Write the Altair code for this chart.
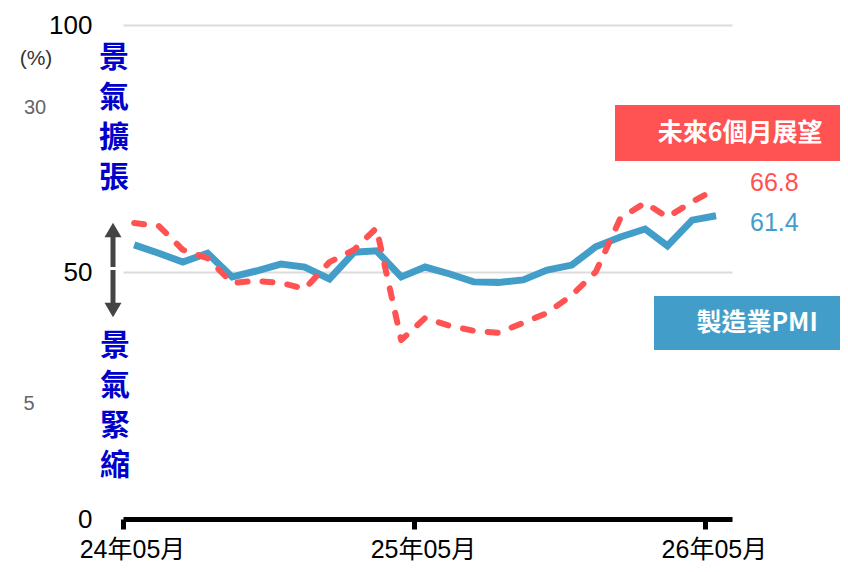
import altair as alt
import pandas as pd

# ---- data ----
months = ["2024-05", "2024-06", "2024-07", "2024-08", "2024-09", "2024-10", "2024-11",
          "2024-12", "2025-01", "2025-02", "2025-03", "2025-04", "2025-05", "2025-06",
          "2025-07", "2025-08", "2025-09", "2025-10", "2025-11", "2025-12", "2026-01",
          "2026-02", "2026-03", "2026-04", "2026-05"]
pmi = [55.5, 53.8, 52.0, 53.8, 49.0, 50.2, 51.6, 51.0, 48.6, 54.0, 54.3, 49.0, 51.0,
       49.6, 48.0, 47.9, 48.4, 50.4, 51.4, 55.1, 57.1, 58.7, 55.3, 60.5, 61.4]
outlook = [59.9, 59.3, 54.5, 52.8, 47.8, 48.2, 47.8, 46.6, 52.0, 54.5, 58.9, 36.2, 40.7,
           39.1, 38.1, 37.7, 39.7, 41.7, 45.3, 50.0, 60.9, 64.0, 61.1, 64.2, 66.8]
series_names = ["製造業PMI", "未來6個月展望"]
x_tick_dates = [(2024, 5, 1), (2025, 5, 1), (2026, 5, 1)]
x_domain = [(2024, 5, 1), (2026, 6, 4)]
y_ticks = [0, 50, 100]
last_labels = ["61.4", "66.8"]
up_words = ["景", "氣", "擴", "張"]
down_words = ["景", "氣", "緊", "縮"]

BLUE = "#429ec9"
RED = "#ff5252"
LATIN = "Liberation Sans, Arial, 'Noto Sans CJK TC', sans-serif"
CJK = "'Noto Sans CJK TC', sans-serif"

dates = [m + "-15" for m in months]
df = pd.DataFrame({
    "date": dates + dates,
    "value": pmi + outlook,
    "series": [series_names[0]] * len(pmi) + [series_names[1]] * len(outlook),
})

def dt(t):
    return alt.DateTime(year=t[0], month=t[1], date=t[2], utc=True)

x_enc = alt.X(
    "date:T",
    scale=alt.Scale(type="utc", domain=[dt(d) for d in x_domain]),
    axis=alt.Axis(
        values=[dt(d) for d in x_tick_dates],
        labelExpr="utcFormat(datum.value, '%y年%m月')",
        title=None, grid=False,
        domainColor="black", domainWidth=5,
        tickColor="black", tickWidth=5, tickSize=10,
        labelFontSize=25, labelColor="black", labelFont=LATIN,
        labelPadding=8, labelOffset=9, labelFlush=False,
    ),
)
y_enc = alt.Y(
    "value:Q",
    scale=alt.Scale(domain=[0, 100], nice=False),
    axis=alt.Axis(
        values=y_ticks, title=None, domain=False, ticks=False,
        grid=True, gridColor="#dcdcdc", gridWidth=2,
        labelFontSize=26, labelColor="black", labelFont=LATIN, labelPadding=31,
    ),
)

base = alt.Chart(df)
pmi_line = base.transform_filter(alt.datum.series == series_names[0]).mark_line(
    color=BLUE, strokeWidth=7, strokeJoin="miter", strokeCap="butt"
).encode(x=x_enc, y=y_enc)
out_line = base.transform_filter(alt.datum.series == series_names[1]).mark_line(
    color=RED, strokeWidth=6, strokeDash=[10, 15], strokeCap="round", strokeJoin="round"
).encode(x=x_enc, y=y_enc)

one = alt.Data(values=[{}])
L, T = 123, 25  # page position of plot origin


def txt(text, px, py, **kw):
    return alt.Chart(one).mark_text(**kw).encode(
        x=alt.value(px - L), y=alt.value(py - T), text=alt.value(text))


def rect(x1, x2, y1, y2, color):
    return alt.Chart(one).mark_rect(color=color).encode(
        x=alt.value(x1 - L), x2=alt.value(x2 - L),
        y=alt.value(y1 - T), y2=alt.value(y2 - T))


layers = [pmi_line, out_line]

# vertical words
for i, ch in enumerate(up_words):
    layers.append(txt(ch, 114, 58 + 40 * i, font=CJK, fontSize=30, fontWeight="bold",
                      color="#0000cd", align="center", baseline="middle"))
for i, ch in enumerate(down_words):
    layers.append(txt(ch, 115, 346 + 40 * i, font=CJK, fontSize=30, fontWeight="bold",
                      color="#0000cd", align="center", baseline="middle"))

# double arrow
ARROW = "#444444"
layers.append(alt.Chart(one).mark_rule(color=ARROW, strokeWidth=5).encode(
    x=alt.value(113 - L), y=alt.value(232 - T), y2=alt.value(267 - T)))
layers.append(alt.Chart(one).mark_rule(color=ARROW, strokeWidth=5).encode(
    x=alt.value(113 - L), y=alt.value(270 - T), y2=alt.value(307 - T)))
layers.append(alt.Chart(one).mark_point(shape="triangle-up", filled=True, size=289,
                                        color=ARROW, opacity=1).encode(
    x=alt.value(113 - L), y=alt.value(230 - T)))
layers.append(alt.Chart(one).mark_point(shape="triangle-down", filled=True, size=289,
                                        color=ARROW, opacity=1).encode(
    x=alt.value(113 - L), y=alt.value(310 - T)))

# legend boxes
layers.append(rect(615, 840, 105, 161, RED))
layers.append(txt(series_names[1], 740, 133, font=CJK, fontSize=25, fontWeight="bold",
                  color="white", align="center", baseline="middle"))
layers.append(rect(654, 840, 296, 350, BLUE))
layers.append(txt(series_names[0], 757, 323, font=CJK, fontSize=25, fontWeight="bold",
                  color="white", align="center", baseline="middle"))

# last values
layers.append(txt(last_labels[1], 750, 183, font=LATIN, fontSize=25, color=RED,
                  align="left", baseline="middle"))
layers.append(txt(last_labels[0], 750, 223, font=LATIN, fontSize=25, color=BLUE,
                  align="left", baseline="middle"))

# leftover marks at the left edge
layers.append(txt("(%)", 36, 59, font=LATIN, fontSize=21, color="#333333",
                  align="center", baseline="middle"))
layers.append(txt("30", 35, 108, font=LATIN, fontSize=20, color="#666666",
                  align="center", baseline="middle"))
layers.append(txt("5", 29, 404, font=LATIN, fontSize=20, color="#666666",
                  align="center", baseline="middle"))

chart = alt.layer(*layers).properties(
    width=609, height=494,
    padding={"left": 115, "top": 17, "right": 108, "bottom": 45},
    autosize=alt.AutoSizeParams(type="none"),
).configure_view(stroke=None)

chart.save("out.html", embed_options={"renderer": "svg", "actions": False})
